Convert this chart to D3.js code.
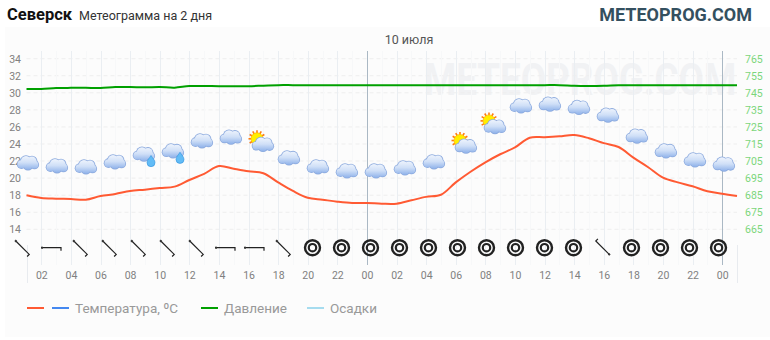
<!DOCTYPE html>
<html>
<head>
<meta charset="utf-8">
<script src="https://cdnjs.cloudflare.com/ajax/libs/d3/7.8.5/d3.min.js"></script>
<style>
  html, body { margin: 0; padding: 0; background: #fff; }
  svg { display: block; font-family: Roboto, sans-serif; }
</style>
</head>
<body>
<div id="chart"></div>
<script>
// часы от начала прогноза (1 = 01:00 первого дня)
var hours = d3.range(1, 50);
var temperature = [17.99, 17.67, 17.59, 17.55, 17.47, 17.9, 18.14, 18.49, 18.65, 18.84, 19.0, 19.78, 20.5, 21.42, 21.1, 20.8, 20.57,
  19.5, 18.5, 17.7, 17.47, 17.24, 17.08, 17.08, 17.0, 17.0, 17.4, 17.8, 18.05, 19.5, 20.75, 21.85, 22.8, 23.6,
  24.74, 24.8, 24.9, 25.05, 24.67, 24.1, 23.65, 22.4, 21.27, 20.05, 19.5, 19.04, 18.45, 18.17, 17.9];
var pressure = [747.3, 747.3, 747.8, 747.9, 747.9, 747.8, 748.4, 748.4, 748.2, 748.4, 748.0, 749.0, 749.0, 748.9, 748.9, 748.9, 749.2,
  749.5, 749.5, 749.5, 749.5, 749.5, 749.5, 749.5, 749.5, 749.5, 749.5, 749.5, 749.5, 749.5, 749.5, 749.5, 749.5, 749.5,
  749.5, 749.5, 749.5, 749.1, 749.0, 749.1, 749.4, 749.5, 749.5, 749.5, 749.5, 749.5, 749.5, 749.5, 749.5];
var tempTicks = [14, 16, 18, 20, 22, 24, 26, 28, 30, 32, 34];
var pressTicks = [665, 675, 685, 695, 705, 715, 725, 735, 745, 755, 765];
var hourTicks = d3.range(2, 49, 2);
var oddHours = d3.range(3, 48, 2);
var dayLines = [24, 48];

// высота значка погоды по шкале температуры и тип значка
var iconLevel = [21.81, 21.46, 21.34, 21.93, 22.83, 23.21, 24.39, 24.82, 24.2, 22.39, 21.34, 20.87, 20.87, 21.22, 21.93, 24.0, 26.3, 28.49, 28.69, 28.3, 27.4, 24.94, 23.21, 22.16, 21.65];
var iconType = ["c", "c", "c", "c", "r", "r", "c", "c", "s", "c", "c", "c", "c", "c", "c", "s", "s", "c", "c", "c", "c", "c", "c", "c", "c"];
// направление ветра: угол поворота стрелки, null = штиль
var windDir = [45, 0, 45, 45, 45, 45, 45, 0, 0, 45, null, null, null, null, null, null, null, null, null, null, 225, null, null, null, null];

var legendItems = [
  { name: "", color: "#ff5a33", at: 27 },
  { name: "Температура, ºC", color: "#4488f0", at: 52 },
  { name: "Давление", color: "#00a000", at: 201 },
  { name: "Осадки", color: "#a6dcef", at: 307 }
];

var width = 770, height = 340;
var svg = d3.select("#chart").append("svg").attr("width", width).attr("height", height);

// фон графика
svg.append("rect").attr("x", 5).attr("y", 27).attr("width", 765).attr("height", 310).attr("fill", "#fcfcfc");

var x = d3.scaleLinear().domain([1, 49]).range([26.5, 737]);
var yT = d3.scaleLinear().domain([14, 34]).range([229.3, 58.7]);
var yP = d3.scaleLinear().domain([665, 765]).range([229.3, 58.7]);
var iconX = d3.scaleLinear().domain([0, 24]).range([28, 724]);
var windX = d3.scaleLinear().domain([0, 24]).range([22.5, 718.5]);
var windY = 247.7;

// заголовки
svg.append("text").attr("x", 7).attr("y", 20).attr("font-size", 16.5).attr("font-weight", 700).attr("fill", "#111").text("Северск");
svg.append("text").attr("x", 79).attr("y", 20).attr("font-size", 12.5).attr("fill", "#333").text("Метеограмма на 2 дня");
svg.append("text").attr("x", 752).attr("y", 21).attr("text-anchor", "end").attr("font-size", 18).attr("font-weight", 700).attr("fill", "#34505f").text("METEOPROG.COM");
svg.append("text").attr("x", 409).attr("y", 44).attr("text-anchor", "middle").attr("font-size", 12.5).attr("fill", "#555").text("10 июля");

// водяной знак
svg.append("text").attr("transform", "translate(424,95) scale(1,1.22)").attr("font-size", 36.8).attr("font-weight", 700)
  .attr("fill", "#f1f2f4").text("METEOPROG.COM");

// сетка
svg.append("g").selectAll("line").data(tempTicks).enter().append("line")
  .attr("x1", 26.5).attr("x2", 737)
  .attr("y1", function (d) { return yT(d); }).attr("y2", function (d) { return yT(d); })
  .attr("stroke", "#eeeeee").attr("stroke-dasharray", "4,3");

svg.append("g").selectAll("line").data(oddHours).enter().append("line")
  .attr("x1", function (d) { return Math.round(x(d)) + 0.5; }).attr("x2", function (d) { return Math.round(x(d)) + 0.5; })
  .attr("y1", 51).attr("y2", 265)
  .attr("stroke", "#f7f8f9");

svg.append("g").selectAll("line").data(hourTicks).enter().append("line")
  .attr("x1", function (d) { return Math.round(x(d)) + 0.5; }).attr("x2", function (d) { return Math.round(x(d)) + 0.5; })
  .attr("y1", 51).attr("y2", 265)
  .attr("stroke", "#eaeef2");

svg.append("g").selectAll("line").data(dayLines).enter().append("line")
  .attr("x1", function (d) { return Math.round(x(d)) + 0.5; }).attr("x2", function (d) { return Math.round(x(d)) + 0.5; })
  .attr("y1", 51).attr("y2", 265)
  .attr("stroke", "#aab8c4");

svg.append("g").selectAll("line").data([1, 49]).enter().append("line")
  .attr("x1", function (d) { return Math.round(x(d)) + 0.5; }).attr("x2", function (d) { return Math.round(x(d)) + 0.5; })
  .attr("y1", 245).attr("y2", 283)
  .attr("stroke", "#e8ebef");

// оси
var axisL = svg.append("g").attr("transform", "translate(21,0)")
  .call(d3.axisLeft(yT).tickValues(tempTicks).tickSize(0).tickPadding(0));
var axisR = svg.append("g").attr("transform", "translate(745,0)")
  .call(d3.axisRight(yP).tickValues(pressTicks).tickSize(0).tickPadding(0));
var axisB = svg.append("g").attr("transform", "translate(0,272)")
  .call(d3.axisBottom(x).tickValues(hourTicks).tickSize(0).tickPadding(0)
    .tickFormat(function (d) { return d3.format("02")(d % 24); }));
axisL.select(".domain").remove();
axisR.select(".domain").remove();
axisB.select(".domain").remove();
axisL.selectAll("text").attr("font-family", "Roboto").attr("font-size", 10.5).attr("fill", "#808080");
axisR.selectAll("text").attr("font-family", "Roboto").attr("font-size", 10.5).attr("fill", "#7bd67b");
axisB.selectAll("text").attr("font-family", "Roboto").attr("font-size", 10.5).attr("fill", "#808080");

// линии
var lineT = d3.line().x(function (d, i) { return x(hours[i]); }).y(function (d) { return yT(d); }).curve(d3.curveCatmullRom);
var lineP = d3.line().x(function (d, i) { return x(hours[i]); }).y(function (d) { return yP(d); }).curve(d3.curveCatmullRom);
svg.append("path").datum(pressure).attr("fill", "none").attr("stroke", "#00a000").attr("stroke-width", 2).attr("d", lineP);
svg.append("path").datum(temperature).attr("fill", "none").attr("stroke", "#ff5a33").attr("stroke-width", 2).attr("d", lineT);

// значки
var defs = svg.append("defs");
var grad = defs.append("linearGradient").attr("id", "cloudFill").attr("gradientUnits", "userSpaceOnUse")
  .attr("x1", 0).attr("x2", 0).attr("y1", -7).attr("y2", 7);
grad.append("stop").attr("offset", "0%").attr("stop-color", "#f0f5fd");
grad.append("stop").attr("offset", "50%").attr("stop-color", "#cfdff7");
grad.append("stop").attr("offset", "100%").attr("stop-color", "#8fb2ea");

function drawCloud(g, dx, dy) {
  var parts = [[-6.5, 1.5, 4], [-2, -1.5, 5.2], [4, -1.5, 4.6], [0, 2.5, 4.5], [6.5, 2, 3.8]];
  var c = g.append("g").attr("transform", "translate(" + dx + "," + dy + ")");
  c.selectAll("circle.o").data(parts).enter().append("circle").attr("class", "o")
    .attr("cx", function (d) { return d[0]; }).attr("cy", function (d) { return d[1]; })
    .attr("r", function (d) { return d[2] + 0.8; }).attr("fill", "#8caade");
  c.selectAll("circle.i").data(parts).enter().append("circle").attr("class", "i")
    .attr("cx", function (d) { return d[0]; }).attr("cy", function (d) { return d[1]; })
    .attr("r", function (d) { return d[2]; }).attr("fill", "url(#cloudFill)");
}
function drawDrop(g) {
  g.append("path").attr("transform", "translate(7,7)")
    .attr("d", "M0,-5.5 C1.5,-2.8 4,-1 4,1.7 A4,4 0 0 1 -4,1.7 C-4,-1 -1.5,-2.8 0,-5.5 z")
    .attr("fill", "#62bcf6").attr("stroke", "#2f90de").attr("stroke-width", 0.6);
}
function drawSun(g) {
  var s = g.append("g").attr("transform", "translate(-3,-3.5)");
  s.selectAll("line").data(d3.range(12)).enter().append("line")
    .attr("x1", 0).attr("y1", -5.5).attr("x2", 0).attr("y2", -8.5)
    .attr("transform", function (d) { return "rotate(" + d * 30 + ")"; })
    .attr("stroke", "#ff7a10").attr("stroke-width", 1.6);
  s.append("circle").attr("r", 6).attr("fill", "#ffee00").attr("stroke", "#ffb400").attr("stroke-width", 0.7);
}

var icons = svg.append("g").selectAll("g").data(iconLevel).enter().append("g")
  .attr("transform", function (d, i) { return "translate(" + iconX(i) + "," + yT(d) + ")"; });
icons.each(function (d, i) {
  var g = d3.select(this);
  if (iconType[i] == "s") {
    drawSun(g);
    drawCloud(g, 3, 2);
  } else {
    drawCloud(g, 0, 0);
    if (iconType[i] == "r") drawDrop(g);
  }
});

// ветер
var wind = svg.append("g").selectAll("g").data(windDir).enter().append("g")
  .attr("transform", function (d, i) { return "translate(" + windX(i) + "," + windY + ")"; });
wind.each(function (d) {
  var g = d3.select(this);
  if (d === null) {
    g.append("circle").attr("r", 7.5).attr("fill", "none").attr("stroke", "#222").attr("stroke-width", 2.4);
    g.append("circle").attr("r", 3.7).attr("fill", "none").attr("stroke", "#222").attr("stroke-width", 2.2);
  } else {
    var a = g.append("g").attr("transform", "rotate(" + d + ")");
    a.append("path").attr("d", "M-9.5,0 H9.5 V3").attr("fill", "none").attr("stroke", "#222").attr("stroke-width", 1.2);
    a.append("rect").attr("x", -10.5).attr("y", -1).attr("width", 2).attr("height", 2).attr("fill", "#333");
  }
});

// легенда
var legend = svg.append("g").selectAll("g").data(legendItems).enter().append("g")
  .attr("transform", function (d) { return "translate(" + d.at + ",308)"; });
legend.append("line").attr("x1", 0).attr("x2", 17).attr("stroke", function (d) { return d.color; }).attr("stroke-width", 2);
legend.append("text").attr("x", 23).attr("y", 5).attr("font-size", 13.5).attr("fill", "#999").text(function (d) { return d.name; });
</script>
</body>
</html>
